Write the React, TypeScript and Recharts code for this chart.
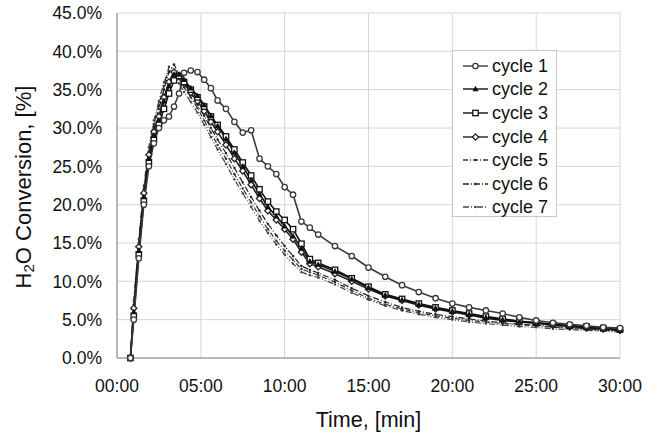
import React from 'react';
import { LineChart, Line, XAxis, YAxis, CartesianGrid, Legend } from 'recharts';

// time in minutes after start
const minutes = [
  0.8, 1.0, 1.3, 1.6, 1.9, 2.2, 2.5, 2.8, 3.1, 3.4, 3.7, 4.0,
  4.4, 4.8, 5.2, 5.6, 6.0,
  6.5, 7.0, 7.5, 8.0, 8.5, 9.0, 9.5, 10.0, 10.5, 11.0, 11.5, 12.0,
  13, 14, 15, 16, 17, 18, 19, 20, 21, 22, 23, 24, 25, 26, 27, 28, 29, 30,
];

// H2O conversion [%] per cycle
const cycle1 = [
  0, 5, 13, 20, 25, 28, 30, 31, 31.5, 32.8, 34.5, 37.2,
  37.5, 37.3, 36.3, 35.2, 33.6,
  32.5, 30.8, 29.4, 29.7, 26.0, 25.0, 24.0, 22.3, 21.3, 17.8, 17.0, 16.1,
  14.6, 13.3, 11.8, 10.6, 9.5, 8.6, 7.8, 7.1, 6.6, 6.2, 5.8, 5.3, 4.9, 4.6, 4.4, 4.2, 4.0, 3.9,
];
const cycle2 = [
  0, 6, 14, 21, 26, 29, 31, 33.5, 35.5, 37.0, 37.0, 36.3,
  35.2, 34.2, 33.0, 31.6, 30.3,
  28.6, 26.8, 25.0, 23.2, 21.4, 19.7, 18.5, 17.2, 15.9, 14.3, 12.6, 12.2,
  11.3, 10.3, 9.2, 8.2, 7.6, 7.0, 6.5, 6.1, 5.7, 5.3, 5.0, 4.8, 4.6, 4.4, 4.2, 4.0, 3.9, 3.7,
];
const cycle3 = [
  0, 5.5, 13.5, 20.5, 25.5, 28.5, 30.5, 32.5, 34.5, 36.2, 36.8, 36.0,
  35.0, 34.0, 32.8, 31.5, 30.4,
  28.9, 27.2, 25.5, 23.8, 22.0, 20.4, 19.1, 18.0, 16.8, 14.9, 12.9, 12.4,
  11.5, 10.4, 9.3, 8.3, 7.7, 7.1, 6.6, 6.2, 5.8, 5.4, 5.1, 4.8, 4.6, 4.4, 4.2, 4.1, 3.9, 3.7,
];
const cycle4 = [
  0, 6.5, 14.5, 21.5, 26.5, 29.5, 31.5, 34, 36, 37.3, 36.8, 35.8,
  34.6, 33.5, 32.2, 30.8, 29.5,
  27.8, 26.0, 24.4, 22.6, 20.8, 19.2, 18.0, 16.8, 15.5, 13.8, 12.3, 11.9,
  11.0, 10.0, 9.0, 8.1, 7.5, 6.9, 6.4, 6.0, 5.6, 5.2, 4.9, 4.7, 4.5, 4.3, 4.1, 3.9, 3.8, 3.6,
];
const cycle5 = [
  0, 7, 15, 22, 27, 30.5, 33, 35.5, 38.0, 37.6, 36.4, 35.3,
  34.0, 32.6, 31.0, 29.4, 27.8,
  26.0, 24.0, 22.1, 20.3, 18.5, 16.8, 15.3, 14.0, 12.8, 11.6, 11.2, 10.8,
  9.9, 8.8, 7.8, 7.0, 6.4, 5.9, 5.5, 5.2, 4.9, 4.7, 4.5, 4.3, 4.2, 4.0, 3.9, 3.7, 3.6, 3.5,
];
const cycle6 = [
  0, 6.5, 14.5, 21.5, 26.5, 30, 32.5, 35, 37.3, 38.3, 37.0, 35.8,
  34.5, 33.1, 31.6, 30.0, 28.5,
  26.7, 24.8, 22.9, 21.0, 19.2, 17.5, 16.0, 14.6, 13.3, 12.0, 11.5, 11.1,
  10.2, 9.1, 8.1, 7.3, 6.6, 6.1, 5.7, 5.4, 5.1, 4.8, 4.6, 4.4, 4.3, 4.1, 4.0, 3.8, 3.7, 3.6,
];
const cycle7 = [
  0, 7.5, 15.5, 22.5, 27.5, 31, 33.5, 36, 37.4, 36.9, 35.8, 34.7,
  33.4, 32.0, 30.4, 28.8, 27.2,
  25.3, 23.3, 21.5, 19.7, 17.9, 16.3, 14.8, 13.5, 12.3, 11.2, 10.8, 10.5,
  9.6, 8.5, 7.6, 6.8, 6.2, 5.7, 5.3, 5.0, 4.7, 4.5, 4.3, 4.1, 4.0, 3.8, 3.7, 3.6, 3.5, 3.4,
];

const cycleNames = ['cycle 1', 'cycle 2', 'cycle 3', 'cycle 4', 'cycle 5', 'cycle 6', 'cycle 7'];
const xTicks = [0, 5, 10, 15, 20, 25, 30];
const yTicks = [0, 5, 10, 15, 20, 25, 30, 35, 40, 45];

const allCycles = [cycle1, cycle2, cycle3, cycle4, cycle5, cycle6, cycle7];
const data = minutes.map((t, i) => {
  const row: Record<string, number> = { t };
  allCycles.forEach((c, k) => { row[`c${k + 1}`] = c[i]; });
  return row;
});

const FONT = '"Liberation Sans", Arial, sans-serif';

type Marker = 'circle' | 'triangle' | 'square' | 'diamond' | 'dot';

const styles: { color: string; marker: Marker; dash?: string; width: number }[] = [
  { color: '#3a3a3a', marker: 'circle', width: 1.6 },
  { color: '#111', marker: 'triangle', width: 1.6 },
  { color: '#111', marker: 'square', width: 1.6 },
  { color: '#222', marker: 'diamond', width: 1.6 },
  { color: '#333', marker: 'dot', dash: '5 2 1 2', width: 1.2 },
  { color: '#222', marker: 'dot', dash: '6 2 1 2', width: 1.2 },
  { color: '#444', marker: 'dot', dash: '6 2 1 2 1 2', width: 1.2 },
];

const drawMarker = (m: Marker, cx: number, cy: number, color: string, key?: string) => {
  switch (m) {
    case 'circle':
      return <circle key={key} cx={cx} cy={cy} r={2.7} fill="#fff" stroke={color} strokeWidth={1.3} />;
    case 'triangle':
      return <path key={key} d={`M${cx},${cy - 3.3}L${cx + 3.1},${cy + 2.3}L${cx - 3.1},${cy + 2.3}Z`} fill={color} />;
    case 'square':
      return <rect key={key} x={cx - 2.7} y={cy - 2.7} width={5.4} height={5.4} fill="#fff" stroke={color} strokeWidth={1.3} />;
    case 'diamond':
      return <path key={key} d={`M${cx},${cy - 3.1}L${cx + 3.1},${cy}L${cx},${cy + 3.1}L${cx - 3.1},${cy}Z`} fill="#fff" stroke={color} strokeWidth={1.3} />;
    default:
      return <circle key={key} cx={cx} cy={cy} r={1.2} fill={color} />;
  }
};

const makeDot = (m: Marker, color: string) => (p: any) => {
  if (p.cx == null || p.cy == null) return <g key={p.key} />;
  return drawMarker(m, p.cx, p.cy, color, p.key);
};

const fmtTime = (v: number) => `${String(v).padStart(2, '0')}:00`;

const LegendBox = () => (
  <div
    style={{
      width: 105, height: 167, border: '1px solid #c8c8c8', background: '#fff',
      boxSizing: 'border-box', paddingTop: 3, fontFamily: FONT,
    }}
  >
    {cycleNames.map((name, i) => (
      <div key={name} style={{ display: 'flex', alignItems: 'center', height: 23.6 }}>
        <svg width={36} height={12} style={{ marginLeft: 9 }}>
          <line x1={1} y1={6} x2={26} y2={6} stroke={styles[i].color} strokeWidth={1.4} strokeDasharray={styles[i].dash} />
          {drawMarker(styles[i].marker, 13.5, 6, styles[i].color)}
        </svg>
        <span style={{ fontSize: 18, color: '#111', marginLeft: -6, lineHeight: '20px' }}>{name}</span>
      </div>
    ))}
  </div>
);

const YTitle = () => (
  <text
    x={23}
    y={187}
    transform="rotate(-90, 23, 187)"
    textAnchor="middle"
    dominantBaseline="central"
    fontSize={22}
    fill="#111"
    fontFamily={FONT}
  >
    H<tspan dy={5} fontSize={15}>2</tspan>
    <tspan dy={-5}>O Conversion, [%]</tspan>
  </text>
);

export default function App() {
  return (
    <div style={{ position: 'absolute', left: 0, top: 0, width: 658, height: 435, background: '#fff' }}>
      <LineChart
        width={658}
        height={435}
        data={data}
        margin={{ top: 13, right: 38, left: 0, bottom: 0 }}
        style={{ fontFamily: FONT }}
      >
        <CartesianGrid stroke="#d6d6d6" strokeWidth={1} />
        <XAxis
          dataKey="t"
          type="number"
          domain={[0, 30]}
          ticks={xTicks}
          tickFormatter={fmtTime}
          height={77}
          axisLine={{ stroke: '#868686' }}
          tickLine={false}
          tickMargin={16}
          tick={{ fill: '#111', fontSize: 17.5, fontFamily: FONT }}
          label={{ value: 'Time, [min]', position: 'insideBottom', offset: 8, fill: '#111', fontSize: 21.5, fontFamily: FONT }}
        />
        <YAxis
          type="number"
          domain={[0, 45]}
          ticks={yTicks}
          tickFormatter={(v: number) => `${v.toFixed(1)}%`}
          width={117}
          axisLine={{ stroke: '#868686' }}
          tickLine={false}
          tickMargin={9}
          tick={{ fill: '#111', fontSize: 17.5, fontFamily: FONT }}
          label={<YTitle />}
        />
        <Legend
          layout="vertical"
          align="center"
          verticalAlign="middle"
          content={() => <LegendBox />}
          wrapperStyle={{ left: 452, top: 50, width: 105, height: 167 }}
        />
        {[6, 5, 4, 3, 2, 1, 0].map((i) => (
          <Line
            key={i}
            dataKey={`c${i + 1}`}
            name={cycleNames[i]}
            type="linear"
            stroke={styles[i].color}
            strokeWidth={styles[i].width}
            strokeDasharray={styles[i].dash}
            dot={makeDot(styles[i].marker, styles[i].color)}
            activeDot={false}
            isAnimationActive={false}
          />
        ))}
      </LineChart>
    </div>
  );
}
